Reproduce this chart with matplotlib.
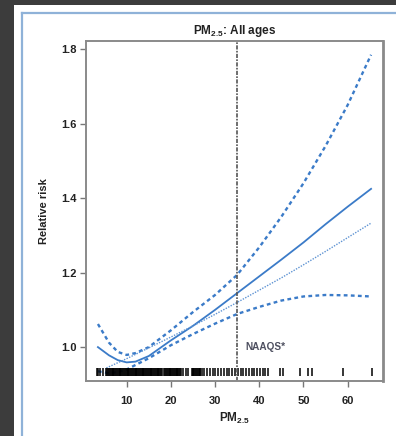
import matplotlib.pyplot as plt
from matplotlib.lines import Line2D
from matplotlib.patches import Rectangle

plt.rcParams['font.family'] = ['Liberation Sans', 'DejaVu Sans']
plt.rcParams['font.weight'] = 'bold'
plt.rcParams['mathtext.fontset'] = 'custom'
plt.rcParams['mathtext.rm'] = 'Liberation Sans:bold'
plt.rcParams['mathtext.bf'] = 'Liberation Sans:bold'

# estimated curves
x = [3.5, 6, 8, 10, 12, 15, 20, 25, 30, 35, 40, 45, 50, 55, 60, 65.3]
rr = [1.00, 0.978, 0.965, 0.959, 0.961, 0.976, 1.018, 1.057, 1.100, 1.145,
      1.190, 1.235, 1.281, 1.330, 1.377, 1.425]
upper = [1.062, 1.012, 0.987, 0.979, 0.984, 1.000, 1.045, 1.094, 1.140, 1.194,
         1.268, 1.350, 1.440, 1.540, 1.650, 1.785]
lower = [0.935, 0.930, 0.933, 0.940, 0.952, 0.970, 1.005, 1.035, 1.063, 1.089,
         1.108, 1.125, 1.136, 1.140, 1.139, 1.136]

x_lin = [5.4, 10, 15, 20, 25, 30, 35, 40, 45, 50, 55, 60, 65.3]
rr_lin = [0.944, 0.969, 0.998, 1.027, 1.057, 1.088, 1.120, 1.153, 1.186,
          1.221, 1.257, 1.294, 1.333]

# observed PM2.5 values (rug)
rug = [3.35, 3.6, 3.9, 4.6,
       5.4, 5.6, 5.8, 6.0, 6.2, 6.4, 6.6, 6.8, 7.0, 7.2, 7.4, 7.6, 7.8, 8.0,
       8.2, 8.4, 8.6, 8.8, 9.0, 9.2, 9.4, 9.6, 9.8, 10.0, 10.2, 10.4, 10.6,
       10.8, 11.0, 11.2, 11.4, 11.6, 11.8, 12.0, 12.2, 12.4, 12.6, 12.8, 13.0,
       13.2, 13.4, 13.6, 13.8, 14.0, 14.2, 14.4, 14.6, 14.8, 15.0, 15.2, 15.4,
       15.6, 15.8, 16.0, 16.2, 16.4, 16.6, 16.8, 17.0, 17.2, 17.4, 17.6, 17.8,
       18.0, 18.5, 18.7, 18.9, 19.1, 19.3, 19.5, 19.7, 19.9, 20.1, 20.3, 20.5,
       20.7, 20.9, 21.1, 21.3, 21.5, 21.7, 21.9, 22.1, 22.3,
       22.8, 23.4, 23.9, 24.7, 24.9, 25.1, 25.3, 25.5, 25.7, 25.9, 26.1, 26.3,
       26.5, 26.7, 26.95,
       27.56, 28.24, 28.85, 29.46, 30.04, 30.72, 31.33, 31.94, 32.62, 33.21,
       33.82, 34.4, 35.25, 35.79, 36.38, 36.99, 37.6, 38.28, 38.87, 39.55,
       40.16, 40.77, 41.36, 42.04, 44.68, 45.43, 49.19, 51.09, 51.86, 58.87,
       65.57]

naaqs = 35
xticks = [10, 20, 30, 40, 50, 60]
yticks = [1.0, 1.2, 1.4, 1.6, 1.8]

fig = plt.figure(figsize=(3.96, 4.36), dpi=100)
fig.patch.set_facecolor('#3c3c3c')
fig.add_artist(Rectangle((14 / 396, 0), 1, 1 - 5 / 436, transform=fig.transFigure,
                         facecolor='white', edgecolor='none', zorder=0))
blue_edge = '#8fb2d8'
fig.add_artist(Line2D([22 / 396, 22 / 396], [0, 1 - 13 / 436], transform=fig.transFigure,
                      color=blue_edge, lw=1.6))
fig.add_artist(Line2D([22 / 396, 1], [1 - 13 / 436, 1 - 13 / 436], transform=fig.transFigure,
                      color=blue_edge, lw=1.6))

ax = fig.add_axes([86 / 396, 1 - 381 / 436, 297 / 396, 340 / 436])
blue = '#3b7bc8'
ax.plot(x, rr, color=blue, lw=1.3)
ax.plot(x, upper, color=blue, lw=1.7, ls=(0, (1.6, 1.4)))
ax.plot(x, lower, color=blue, lw=1.7, ls=(0, (1.6, 1.4)))
ax.plot(x_lin, rr_lin, color='#5e93d3', lw=1.0, ls=(0, (1, 1)))
ax.vlines(rug, 0.923, 0.944, color='black', lw=1.1)
ax.axvline(naaqs, color='#555555', lw=1.2, ls=(0, (2.5, 0.8, 1, 0.8)))
ax.text(36.8, 1.0, 'NAAQS*', fontsize=7.2, fontweight='bold', color='#4e5060',
        ha='left', va='center')

ax.set_xlim(0.8, 68)
ax.set_ylim(0.909, 1.822)
ax.set_xticks(xticks)
ax.set_yticks(yticks)
ax.set_yticklabels(['%.1f' % v for v in yticks])
ax.tick_params(axis='both', labelsize=8, colors='#222222', width=1, length=4.5)
ax.tick_params(axis='x', pad=6, color='#777777')
ax.tick_params(axis='y', pad=2, color='#777777')
for s in ax.spines.values():
    s.set_color('#8a8a8a')
    s.set_linewidth(1.4)
ax.spines['right'].set_linewidth(2)

ax.set_title(r'$\mathbf{PM_{2.5}}$: All ages', fontsize=8.5, fontweight='bold',
             color='#222222', pad=5)
ax.set_xlabel(r'$\mathbf{PM_{2.5}}$', fontsize=8.5, color='#222222', labelpad=4)
ax.set_ylabel('Relative risk', fontsize=8, fontweight='bold', color='#222222',
              labelpad=9)

fig.savefig('out.png', dpi=100)
